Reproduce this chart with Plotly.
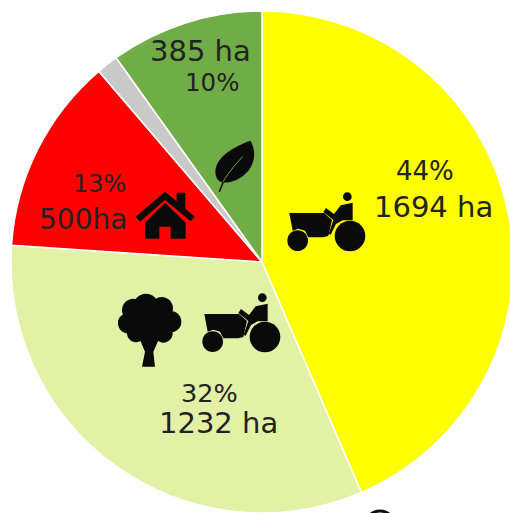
import plotly.graph_objects as go

# ---- data ----
categories = ["Cropland", "Orchard and cropland", "Built-up", "Other", "Natural"]
slice_values = [1680, 1256, 489, 54, 381]   # hectares as the slice angles read in the picture
slice_colors = ["#FFFF00", "#E3F1A6", "#FF0000", "#C9C9C9", "#70AD47"]
label_texts = ["44%", "1694 ha", "385 ha", "10%", "13%", "500ha", "32%", "1232 ha"]
label_sizes = [26, 29, 29, 24.5, 24, 28, 25.5, 29]
label_x = [425, 433, 200, 212, 99, 83, 209, 218]
label_y = [171, 207, 51, 83, 184, 219, 393, 423]

W, H = 524, 524
CX, CY, R = 262, 262, 251
TEXT = "#222222"


def X(x):
    return x / W


def Y(y):
    return 1 - y / H


def poly(pts):
    return "M" + " L".join(f"{X(x):.5f},{Y(y):.5f}" for x, y in pts) + " Z"


def circle(cx, cy, r):
    k = 0.5523 * r
    p = lambda x, y: f"{X(x):.5f},{Y(y):.5f}"
    return (f"M{p(cx + r, cy)} C{p(cx + r, cy + k)} {p(cx + k, cy + r)} {p(cx, cy + r)} "
            f"C{p(cx - k, cy + r)} {p(cx - r, cy + k)} {p(cx - r, cy)} "
            f"C{p(cx - r, cy - k)} {p(cx - k, cy - r)} {p(cx, cy - r)} "
            f"C{p(cx + k, cy - r)} {p(cx + r, cy - k)} {p(cx + r, cy)} Z")


def shape(path, fill="#0a0a0a", line=None, width=0):
    return dict(type="path", xref="paper", yref="paper", path=path,
                fillcolor=fill, line=dict(color=line or "rgba(0,0,0,0)", width=width))


def z(ox, oy, pts):
    return [(ox + a / 3, oy + b / 3) for a, b in pts]


def tractor(dx, dy):
    ox, oy = 270 + dx, 140 + dy
    hood = [(58, 219), (162, 219), (186, 240), (175, 288), (160, 292), (115, 292),
            (105, 272), (85, 266), (68, 272)]
    rider = [(248, 188), (248, 241), (218, 241), (198, 252), (182, 284), (176, 282), (190, 240),
             (160, 216), (168, 204), (192, 222), (212, 196)]
    out = [shape(poly(z(ox, oy, hood))), shape(poly(z(ox, oy, rider)))]
    for a, b, r in [(83, 302, 31), (240, 288, 46), (232, 170, 13)]:
        out.append(shape(circle(ox + a / 3, oy + b / 3, r / 3)))
    return out


shapes = tractor(0, 0) + tractor(-85, 101)

# tree
ox, oy = 100, 280
for a, b, r in [(138, 78, 37), (185, 85, 34), (212, 125, 32), (190, 160, 28), (150, 120, 62),
                (85, 130, 31), (100, 90, 34), (108, 160, 27), (140, 160, 25), (225, 125, 18), (75, 125, 20)]:
    shapes.append(shape(circle(ox + a / 3, oy + b / 3, r / 3)))
shapes.append(shape(poly(z(ox, oy, [(126, 260), (165, 260), (160, 215), (178, 175), (118, 175),
                                    (135, 215)]))))

# house
ox, oy = 0, 0
shapes.append(shape(poly(z(ox, oy, [(407, 650), (495, 575), (530, 604), (530, 578), (556, 578),
                                    (556, 626), (584, 650), (572, 664), (495, 600), (420, 665)]))))
shapes.append(shape(poly(z(ox, oy, [(435, 668), (495, 608), (557, 668), (557, 716), (512, 716),
                                    (512, 680), (478, 680), (478, 716), (435, 716)]))))

# leaf
p = lambda a, b: f"{X(a / 3):.5f},{Y(b / 3):.5f}"
leaf = (f"M{p(752, 422)} C{p(700, 440)} {p(638, 475)} {p(647, 525)} "
        f"C{p(650, 538)} {p(658, 546)} {p(668, 548)} "
        f"C{p(735, 548)} {p(785, 485)} {p(752, 422)} Z")
shapes.append(shape(leaf))
shapes.append(shape(f"M{p(728, 470)} C{p(700, 500)} {p(680, 525)} {p(668, 548)}",
                    fill="rgba(0,0,0,0)", line="#70AD47", width=1))
shapes.append(shape(f"M{p(670, 545)} L{p(658, 575)}", fill="rgba(0,0,0,0)", line="#0a0a0a", width=1.5))

# ring cut by the picture's lower edge
shapes.append(shape(circle(380, 526, 15), fill="rgba(0,0,0,0)", line="#111111", width=3))

fig = go.Figure(go.Pie(
    labels=categories, values=slice_values, sort=False, direction="clockwise", rotation=0,
    marker=dict(colors=slice_colors, line=dict(color="white", width=1.5)),
    textinfo="none", hoverinfo="label+percent", showlegend=False,
    domain=dict(x=[(CX - R) / W, (CX + R) / W], y=[1 - (CY + R) / H, 1 - (CY - R) / H]),
))

annotations = [
    dict(text=t, x=X(a), y=Y(b), xref="paper", yref="paper", xanchor="center", yanchor="middle",
         showarrow=False, font=dict(family="DejaVu Sans", size=s, color=TEXT))
    for t, s, a, b in zip(label_texts, label_sizes, label_x, label_y)
]

fig.update_layout(width=W, height=H, margin=dict(l=0, r=0, t=0, b=0), autosize=False,
                  paper_bgcolor="white", plot_bgcolor="white",
                  shapes=shapes, annotations=annotations)

fig.write_html("out.html", config=dict(displayModeBar=False),
               post_script="document.body.style.margin='0';"
               "document.documentElement.style.overflow='hidden';document.body.style.overflow='hidden';")
